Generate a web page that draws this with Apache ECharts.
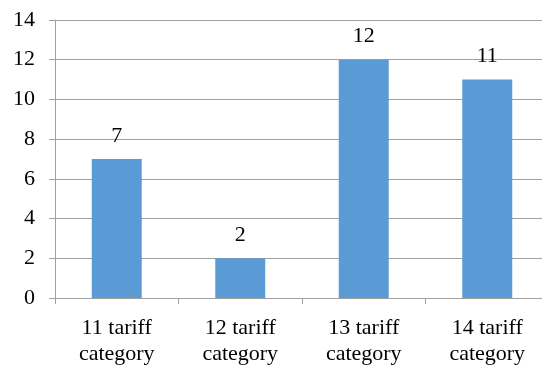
<!DOCTYPE html>
<html>
<head>
<meta charset="utf-8">
<script src="https://cdn.jsdelivr.net/npm/echarts@6/dist/echarts.min.js"></script>
<style>
  html, body { margin: 0; padding: 0; background: #fff; }
  #chart { width: 542px; height: 365px; }
</style>
</head>
<body>
<div id="chart"></div>
<script>
var categories = ['11 tariff\ncategory', '12 tariff\ncategory', '13 tariff\ncategory', '14 tariff\ncategory'];
var values = [7, 2, 12, 11];

var serif = 'Liberation Serif';
var myChart = echarts.init(document.getElementById('chart'));

var option = {
    animation: false,
    textStyle: { fontFamily: serif },
    grid: { left: 55, top: 20, width: 494, height: 278, outerBoundsMode: 'none' },
    xAxis: {
        type: 'category',
        data: categories,
        axisLine: { lineStyle: { color: '#a0a0a0', width: 1 } },
        axisTick: { show: true, length: 6, lineStyle: { color: '#a0a0a0' } },
        axisLabel: {
            color: '#000',
            fontSize: 22,
            lineHeight: 26,
            margin: 17,
            fontFamily: serif
        }
    },
    yAxis: {
        type: 'value',
        min: 0,
        max: 14,
        interval: 2,
        axisLine: { show: true, lineStyle: { color: '#a0a0a0', width: 1 } },
        axisTick: { show: true, length: 6, lineStyle: { color: '#a0a0a0' } },
        splitLine: { show: true, lineStyle: { color: '#a0a0a0', width: 1 } },
        axisLabel: {
            color: '#000',
            fontSize: 22,
            margin: 20,
            fontFamily: serif
        }
    },
    series: [
        {
            type: 'bar',
            data: values,
            barWidth: 50,
            itemStyle: { color: '#5b9bd5' },
            label: {
                show: true,
                position: 'top',
                distance: 12,
                color: '#000',
                fontSize: 22,
                fontFamily: serif
            }
        }
    ]
};

myChart.setOption(option);
</script>
</body>
</html>
